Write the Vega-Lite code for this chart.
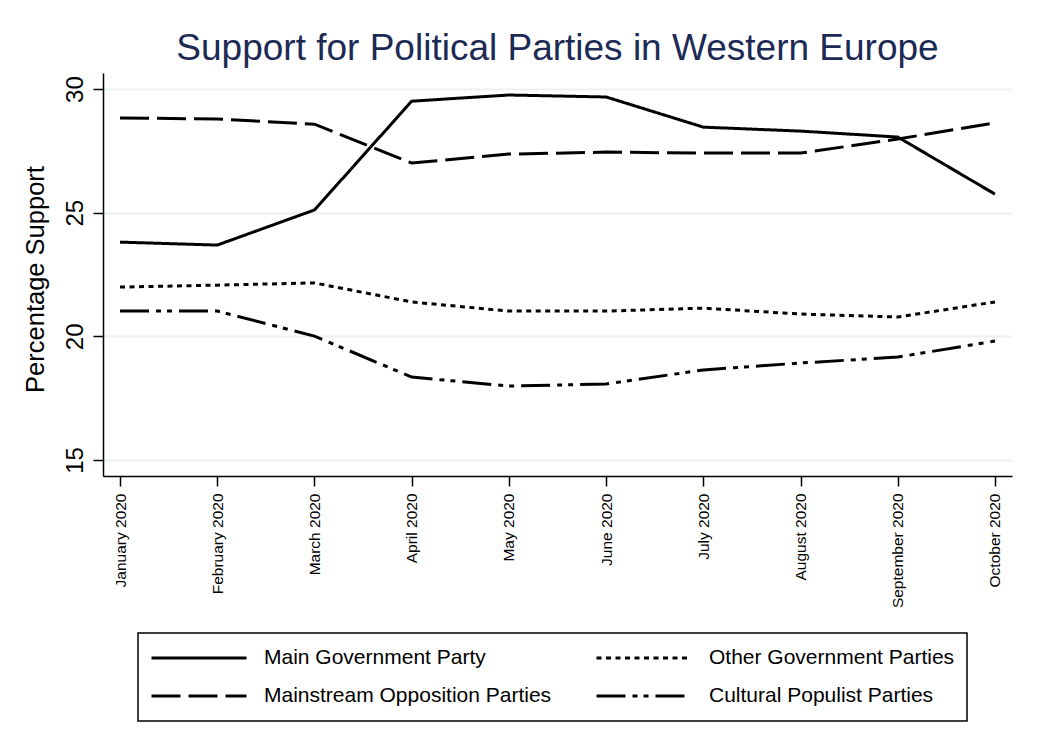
{
  "$schema": "https://vega.github.io/schema/vega-lite/v6.json",
  "autosize": {"type": "none"},
  "width": 909,
  "height": 403,
  "padding": {"left": 103, "top": 73, "right": 27, "bottom": 279},
  "background": "white",
  "title": {
    "text": "Support for Political Parties in Western Europe",
    "font": "Liberation Sans",
    "fontSize": 37,
    "fontWeight": "normal",
    "color": "#1c2a55",
    "anchor": "middle",
    "baseline": "alphabetic",
    "offset": 11,
    "dy": 35
  },
  "data": {
    "values": [
      {"month": "January 2020", "party": "Main Government Party", "value": 23.81},
      {"month": "February 2020", "party": "Main Government Party", "value": 23.69},
      {"month": "March 2020", "party": "Main Government Party", "value": 25.11},
      {"month": "April 2020", "party": "Main Government Party", "value": 29.51},
      {"month": "May 2020", "party": "Main Government Party", "value": 29.76},
      {"month": "June 2020", "party": "Main Government Party", "value": 29.68},
      {"month": "July 2020", "party": "Main Government Party", "value": 28.46},
      {"month": "August 2020", "party": "Main Government Party", "value": 28.3},
      {"month": "September 2020", "party": "Main Government Party", "value": 28.06},
      {"month": "October 2020", "party": "Main Government Party", "value": 25.75},
      {"month": "January 2020", "party": "Mainstream Opposition Parties", "value": 28.83},
      {"month": "February 2020", "party": "Mainstream Opposition Parties", "value": 28.79},
      {"month": "March 2020", "party": "Mainstream Opposition Parties", "value": 28.58},
      {"month": "April 2020", "party": "Mainstream Opposition Parties", "value": 27.01},
      {"month": "May 2020", "party": "Mainstream Opposition Parties", "value": 27.37},
      {"month": "June 2020", "party": "Mainstream Opposition Parties", "value": 27.45},
      {"month": "July 2020", "party": "Mainstream Opposition Parties", "value": 27.41},
      {"month": "August 2020", "party": "Mainstream Opposition Parties", "value": 27.41},
      {"month": "September 2020", "party": "Mainstream Opposition Parties", "value": 27.98},
      {"month": "October 2020", "party": "Mainstream Opposition Parties", "value": 28.63},
      {"month": "January 2020", "party": "Other Government Parties", "value": 21.99},
      {"month": "February 2020", "party": "Other Government Parties", "value": 22.07},
      {"month": "March 2020", "party": "Other Government Parties", "value": 22.16},
      {"month": "April 2020", "party": "Other Government Parties", "value": 21.39},
      {"month": "May 2020", "party": "Other Government Parties", "value": 21.02},
      {"month": "June 2020", "party": "Other Government Parties", "value": 21.02},
      {"month": "July 2020", "party": "Other Government Parties", "value": 21.14},
      {"month": "August 2020", "party": "Other Government Parties", "value": 20.9},
      {"month": "September 2020", "party": "Other Government Parties", "value": 20.78},
      {"month": "October 2020", "party": "Other Government Parties", "value": 21.39},
      {"month": "January 2020", "party": "Cultural Populist Parties", "value": 21.02},
      {"month": "February 2020", "party": "Cultural Populist Parties", "value": 21.02},
      {"month": "March 2020", "party": "Cultural Populist Parties", "value": 20.01},
      {"month": "April 2020", "party": "Cultural Populist Parties", "value": 18.35},
      {"month": "May 2020", "party": "Cultural Populist Parties", "value": 17.99},
      {"month": "June 2020", "party": "Cultural Populist Parties", "value": 18.07},
      {"month": "July 2020", "party": "Cultural Populist Parties", "value": 18.64},
      {"month": "August 2020", "party": "Cultural Populist Parties", "value": 18.92},
      {"month": "September 2020", "party": "Cultural Populist Parties", "value": 19.16},
      {"month": "October 2020", "party": "Cultural Populist Parties", "value": 19.81}
    ]
  },
  "mark": {"type": "line", "color": "black", "strokeWidth": 3},
  "encoding": {
    "x": {
      "field": "month",
      "type": "ordinal",
      "sort": null,
      "scale": {"type": "point", "padding": 0.175},
      "axis": {
        "title": null,
        "labelAngle": -90,
        "labelFont": "Liberation Sans",
        "labelFontSize": 15.5,
        "labelColor": "black",
        "labelPadding": 7,
        "tickSize": 10,
        "tickColor": "black",
        "tickWidth": 1.5,
        "domainColor": "black",
        "domainWidth": 1.5,
        "grid": false
      }
    },
    "y": {
      "field": "value",
      "type": "quantitative",
      "scale": {"domain": [14.35, 30.65], "nice": false, "zero": false},
      "axis": {
        "title": "Percentage Support",
        "titleFont": "Liberation Sans",
        "titleFontSize": 25.5,
        "titleFontWeight": "normal",
        "titleColor": "black",
        "titleAngle": -90,
        "titleAlign": "center",
        "titleBaseline": "alphabetic",
        "titleX": -60,
        "titleY": 206,
        "values": [15, 20, 25, 30],
        "labelAngle": -90,
        "labelAlign": "center",
        "labelBaseline": "alphabetic",
        "labelFont": "Liberation Sans",
        "labelFontSize": 24,
        "labelColor": "black",
        "labelPadding": 11,
        "tickSize": 10,
        "tickColor": "black",
        "tickWidth": 1.5,
        "domainColor": "black",
        "domainWidth": 1.5,
        "grid": true,
        "gridColor": "#eaf2f3",
        "gridWidth": 2
      }
    },
    "strokeDash": {
      "field": "party",
      "type": "nominal",
      "scale": {
        "domain": ["Main Government Party", "Mainstream Opposition Parties", "Other Government Parties", "Cultural Populist Parties"],
        "range": [[1, 0], [29, 8], [5, 4.5], [29, 7, 5, 6, 5, 7]]
      },
      "legend": {
        "title": null,
        "orient": "none",
        "legendX": 35,
        "legendY": 560,
        "columns": 2,
        "symbolType": "stroke",
        "symbolSize": 9025,
        "symbolStrokeWidth": 3,
        "symbolStrokeColor": "black",
        "clipHeight": 26,
        "labelFont": "Liberation Sans",
        "labelFontSize": 21,
        "labelColor": "black",
        "labelOffset": 16,
        "padding": 12,
        "strokeColor": "black",
        "fillColor": "white",
        "rowPadding": 12,
        "columnPadding": 43,
        "labelLimit": 400,
        "encode": {"legend": {"update": {"strokeWidth": {"value": 1.5}}}}
      }
    }
  },
  "config": {
    "view": {"stroke": null}
  }
}
